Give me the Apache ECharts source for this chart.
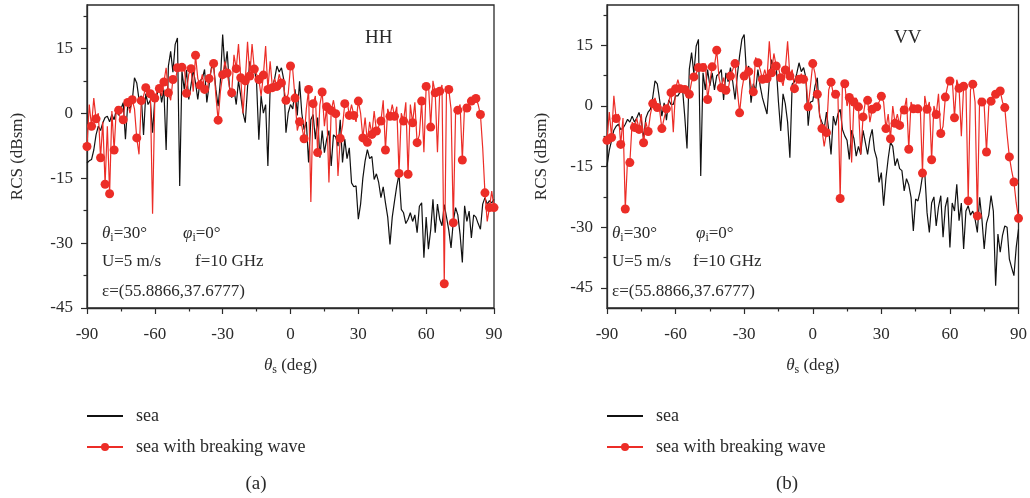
<!DOCTYPE html>
<html>
<head>
<meta charset="utf-8">
<script src="https://cdn.jsdelivr.net/npm/echarts@6/dist/echarts.min.js"></script>
<style>
  html, body { margin: 0; padding: 0; background: #fff; }
  #chart { width: 1030px; height: 498px; }
</style>
</head>
<body>
<div id="chart"></div>
<script>
// scattering angle grid, 1 deg step
const thetaS = Array.from({ length: 181 }, (_, i) => i - 90)

const yMajor = [-45, -30, -15, 0, 15]
const yMinor = [-37.5, -22.5, -7.5, 7.5, 22.5]

// HH, sea
const seaHH = [
  -11.5, -11, -10.7, -8.5, -5, -3, -4, -2.2, -1, -0.7,
  -2, -0.3, -1.5, 0.9, -0.5, 1, 2.4, -6, 2, 1,
  2.8, 8.2, 7, 3.2, 4, -5, 4.5, 2, 3, -4.5,
  3.5, 4.3, 6.5, 2.5, 5.5, -8.5, 10.9, 14.3, 9.5, 15.9,
  17.4, -16.8, 9.7, 5.5, 10, 3.2, 6.5, 10, 7, 3.2,
  7.5, 8, 10.1, 2.5, 6.5, 10.5, 11, 5.5, 1.6, 7.5,
  18.2, 10.1, 14.3, 6, 3.6, 5.5, 2, 7.5, 4, 0.1,
  -2.2, 6, 12, 9.5, 10.5, 7, -6.1, 4, 0, 2,
  -12.2, 5.9, 6.2, 8, 10.9, 9.5, 10.5, 7.8, -4.5, 0.1,
  2, 1, 5.5, -0.5, 7.4, 0, -3.8, -2, -11.4, -1.5,
  -0.3, -6, -1, -10.3, -4, -9.1, -6, -4, -12.2, -5,
  -5.5, -7.6, -1.5, -11.4, -6, -10.5, -8, -16.1, -17, -16.8,
  -24.5, -21, -15, -11, -8.4, -10.5, -10, -15.3, -14, -16,
  -19.5, -17, -20.7, -24, -30.3, -24, -20.3, -16.8, -14.1, -22.2,
  -23, -25.5, -24.5, -23, -25, -23.5, -27.6, -21.5, -20.7, -33.4,
  -24, -31.4, -27, -19.9, -27.6, -21, -24.5, -26, -21.1, -24,
  -27, -31.1, -25, -21.8, -23.5, -28, -34.5, -21.4, -25, -22.6,
  -28.8, -23.5, -24, -25.5, -26.8, -21, -19.5, -21, -20.2, -20.7,
  -19.9
]

// HH, sea with breaking wave
const breakHH = [
  -7.7, 2, -3, 3.5, -1.3, 0, -10.3, -2, -16.4, -3,
  -18.6, 0.5, -8.5, 1.5, 0.7, -2, -1.5, 3, 2.5, 0,
  3.1, 1, -5.7, -9.5, 2.9, 4, 5.9, 4, 4.5, -23.2,
  3.5, 5, 5.7, 4, 7.2, 10.5, 4.7, 3, 7.8, 7,
  10.5, 10, 10.6, 11, 4.6, 9, 10.3, 5, 13.4, 8,
  6.5, 9, 5.5, 5, 8, 10, 11.5, 4, -1.6, 5,
  8.9, 12, 9.3, 6, 4.7, 13.5, 10.3, 16, 8.2, 0,
  7.5, 16.5, 8.6, 16, 10.2, 9, 7.8, 4, 8.8, 15.5,
  5.5, 12, 5.9, 8, 6.2, 9, 7, 6, 3, 4.5,
  10.9, 10, 3.5, -4, -2, -3, -5.9, 1, 5.5, -20.5,
  2.2, 4, -9.1, 2, 4.9, -3, 1.5, -16, 0.6, 3,
  -0.1, -14.5, -5.8, -3, 2.2, 3, -0.5, 2, -0.5, -2,
  2.8, 0, -5.7, -1, -6.7, -2, -4.9, 0.5, -4.1, -3,
  -1.8, 3, -8.5, 1, -0.7, 2, -0.7, 1.5, -13.9, 0,
  -1.8, 2.5, -14.1, 2, -2.2, 2.5, -6.8, -5, 2.8, -9,
  6.2, 7, -3.2, 7.5, 4.7, -9, 5.1, 6.5, -39.4, 6,
  5.5, 1, -25.3, 0, 0.7, 2, -10.8, 2, 1.2, 2,
  2.8, 3.5, 3.4, 2, -0.3, -8, -18.4, -25, -21.8, -18,
  -21.8
]

// VV, sea
const seaVV = [
  -14.8, -11, -8.5, -6, -5, -4.5, -5.8, -5.5, -4.5, -3.3,
  -4, -2.5, -4, -3, -1.6, -3.5, -8.2, -3, -1.5, -0.8,
  2.1, 6.2, 5.5, 1.6, -2.5, 0.8, -3.5, 1.5, 0.4, 0.4,
  2.5, 2.5, 3.5, 4.5, -2.5, -10.5, 9.1, 13.2, 8, 14.8,
  16.5, -17.3, 8.2, 4, 9, 5, 8.2, 4, 7.5, 8,
  9, 1.5, 8.2, 6, 9.5, 6, 1.6, 7.5, 12.4, 16.5,
  17.7, 8.2, 9.9, 0.8, 5.5, 3.7, 9, 5, 2, 0,
  -2, 6.5, 11.5, 9, 10, 1, -6.2, 3, 0.5, -4,
  -12.8, 5.4, 6, 8, 10.7, 8.5, 9.5, 7, -4.9, 1,
  1.2, 5, 7, -2.5, -4, -5.8, -1.5, -6, -12, -2.5,
  -4.8, -2, -0.8, -5.8, -7.4, -8.5, -13.2, -6, -8, -12.4,
  -10, -12, -6, -9, -12, -8, -5.8, -11, -13, -18.9,
  -16.5, -24.7, -18, -13, -9, -10, -14.8, -13, -15.5, -16,
  -21, -18, -19.5, -22.6, -30.9, -23, -23.5, -21, -17.3, -16.5,
  -26.4, -31.3, -24, -22.5, -29.7, -25, -22.2, -32.5, -25, -22.6,
  -35, -24, -26, -19.4, -28.4, -24, -35.4, -26, -24.7, -27,
  -26, -28, -31.3, -22.6, -28, -35.4, -29, -27, -22.2, -26,
  -44.5, -31.7, -36.2, -32, -29.7, -30, -37.9, -40, -42, -35,
  -30.5
]

// VV, sea with breaking wave
const breakVV = [
  -8.5, -1.5, -7.8, 2.5, -3.1, -2, -9.5, -3, -25.5, -13,
  -14, -4, -5.3, -3, -5.8, -2, -9.1, -4, -6.3, -2,
  0.6, 2, -0.4, -1, -5.6, -3, -0.7, 1, 3.3, -6.5,
  4.3, 6.5, 4.3, 4, 4.1, 2, 2.9, 6, 7.2, 8,
  9.5, 10, 9.5, 10.5, 1.6, 6, 9.7, 10, 13.8, 7,
  4.5, 7, 3.9, 4, 7.4, 9, 10.5, 4, -1.7, 4,
  7.4, 10, 8.5, 5, 3.5, 12, 10.7, 9, 6.6, 9,
  6.8, 16, 8.2, 13, 9.9, 9.5, 7, 5, 8.9, 16,
  7.4, 9, 4.3, 6, 6.6, 8, 6.6, 7, -0.2, 5,
  10.5, 8, 2.9, -2, -5.6, -10, -6.6, 4, 5.9, 3,
  2.9, 3, -22.9, 6, 5.5, 0, 2.1, -14, 1, 2,
  -0.2, -12, -2.7, 1, 1.4, -4, -0.8, -1, -0.2, 1,
  2.4, 1, -5.6, -2, -8.1, 0, -4.3, -2, -4.8, 0,
  -1, 2, -10.7, 1, -0.7, 0, -0.7, 0, -16.6, 2.5,
  -0.8, 1, -13.3, 0, -2.1, 3, -6.8, -5, 2.2, 5,
  6.2, 7, -2.9, 6.5, 4.4, -7.5, 4.9, 5, -23.5, 4,
  5.4, 1, -27.2, 2, 1, 0, -11.4, 0, 1.2, 2.5,
  2.9, 3.5, 3.7, 1, -0.4, -7, -12.6, -16, -18.8, -24,
  -27.8
]

const SERIF = "'Liberation Serif', 'DejaVu Serif', serif"
const INK = '#2a2a2a'
const RED = '#ec2d27'

const pairs = ys => thetaS.map((x, i) => [x, ys[i]])

const chart = echarts.init(document.getElementById('chart'), null, { renderer: 'canvas' })

function xAxisFor(gridIndex) {
  return {
    gridIndex,
    type: 'value',
    min: -90,
    max: 90,
    interval: 30,
    name: '{it|θ}{sub|s}{n| (deg)}',
    nameLocation: 'middle',
    nameGap: 48,
    nameTextStyle: {
      rich: {
        it: { fontFamily: SERIF, fontStyle: 'italic', fontSize: 17, color: INK, lineHeight: 20 },
        sub: { fontFamily: SERIF, fontSize: 12, color: INK, lineHeight: 11, verticalAlign: 'bottom' },
        n: { fontFamily: SERIF, fontSize: 17, color: INK, lineHeight: 20 },
      },
    },
    axisLine: { show: true, onZero: false, lineStyle: { color: INK, width: 1.3 } },
    axisTick: { show: true, inside: false, length: 6, lineStyle: { color: INK, width: 1.2 } },
    minorTick: { show: true, splitNumber: 2, length: 3.5, lineStyle: { color: INK, width: 1.2 } },
    axisLabel: { fontFamily: SERIF, fontSize: 17, color: INK, margin: 18 },
    splitLine: { show: false },
  }
}

function yAxesFor(gridIndex, min, gap) {
  return [
    {
      gridIndex,
      type: 'value',
      min,
      max: 25,
      name: 'RCS (dBsm)',
      nameLocation: 'middle',
      nameGap: gap,
      nameTextStyle: { fontFamily: SERIF, fontSize: 17, color: INK },
      axisLine: { show: true, onZero: false, lineStyle: { color: INK, width: 1.3 } },
      axisTick: { show: true, inside: false, length: 6, customValues: yMajor, lineStyle: { color: INK, width: 1.2 } },
      axisLabel: { fontFamily: SERIF, fontSize: 17, color: INK, margin: 14, customValues: yMajor },
      splitLine: { show: false },
    },
    {
      // minor ticks only
      gridIndex,
      type: 'value',
      min,
      max: 25,
      position: 'left',
      axisLine: { show: false, onZero: false },
      axisTick: { show: true, inside: false, length: 3.5, customValues: yMinor, lineStyle: { color: INK, width: 1.2 } },
      axisLabel: { show: false },
      splitLine: { show: false },
    },
  ]
}

function seaSeries(axisIndex, ys) {
  return {
    name: 'sea',
    type: 'line',
    xAxisIndex: axisIndex,
    yAxisIndex: axisIndex * 2,
    data: pairs(ys),
    showSymbol: false,
    symbol: 'none',
    lineStyle: { color: '#111', width: 1.2 },
    itemStyle: { color: '#111' },
    z: 2,
    animation: false,
  }
}

function breakSeries(axisIndex, ys) {
  return {
    name: 'sea with breaking wave',
    type: 'line',
    xAxisIndex: axisIndex,
    yAxisIndex: axisIndex * 2,
    data: pairs(ys),
    symbol: 'circle',
    showAllSymbol: true,
    // a dot on every second point, as in the original
    symbolSize: (v, p) => (p.dataIndex % 2 === 0 ? 9 : 0),
    lineStyle: { color: RED, width: 1.2 },
    itemStyle: { color: RED },
    z: 3,
    animation: false,
  }
}

function legendAt(left) {
  return {
    orient: 'vertical',
    left,
    top: 402,
    itemWidth: 36,
    itemHeight: 10,
    itemGap: 13,
    selectedMode: false,
    textStyle: { fontFamily: SERIF, fontSize: 18, color: INK, padding: [0, 0, 0, 8] },
    data: [
      { name: 'sea', itemStyle: { opacity: 0 } },
      { name: 'sea with breaking wave' },
    ],
  }
}

const rich = {
  it: { fontFamily: SERIF, fontStyle: 'italic', fontSize: 17, fill: INK, lineHeight: 20 },
  sub: { fontFamily: SERIF, fontSize: 12, fill: INK, lineHeight: 11, verticalAlign: 'bottom' },
  n: { fontFamily: SERIF, fontSize: 17, fill: INK, lineHeight: 20 },
}

function label(x, y, text, size, align) {
  return {
    type: 'text',
    x,
    y,
    silent: true,
    style: {
      text,
      fill: INK,
      font: (size || 17) + 'px ' + SERIF,
      align: align || 'left',
      verticalAlign: 'middle',
      rich,
    },
  }
}

chart.setOption({
  backgroundColor: '#fff',
  animation: false,
  grid: [
    { left: 87, top: 5, width: 407, height: 303, show: true, borderColor: INK, borderWidth: 1.3 },
    { left: 607, top: 5, width: 412, height: 303, show: true, borderColor: INK, borderWidth: 1.3 },
  ],
  xAxis: [xAxisFor(0), xAxisFor(1)],
  yAxis: [...yAxesFor(0, -45, 61), ...yAxesFor(1, -50, 57)],
  legend: [legendAt(81), legendAt(601)],
  series: [
    seaSeries(0, seaHH),
    breakSeries(0, breakHH),
    seaSeries(1, seaVV),
    breakSeries(1, breakVV),
  ],
  graphic: [
    label(365, 38, 'HH', 19),
    label(102, 234, '{it|θ}{sub|i}{n|=30°}'),
    label(183, 234, '{it|φ}{sub|i}{n|=0°}'),
    label(102, 262, 'U=5 m/s'),
    label(195, 262, 'f=10 GHz'),
    label(102, 292, 'ε=(55.8866,37.6777)'),

    label(894, 38, 'VV', 19),
    label(612, 234, '{it|θ}{sub|i}{n|=30°}'),
    label(696, 234, '{it|φ}{sub|i}{n|=0°}'),
    label(612, 262, 'U=5 m/s'),
    label(693, 262, 'f=10 GHz'),
    label(612, 292, 'ε=(55.8866,37.6777)'),

    label(256, 484, '(a)', 19, 'center'),
    label(787, 484, '(b)', 19, 'center'),
  ],
})
</script>
</body>
</html>
